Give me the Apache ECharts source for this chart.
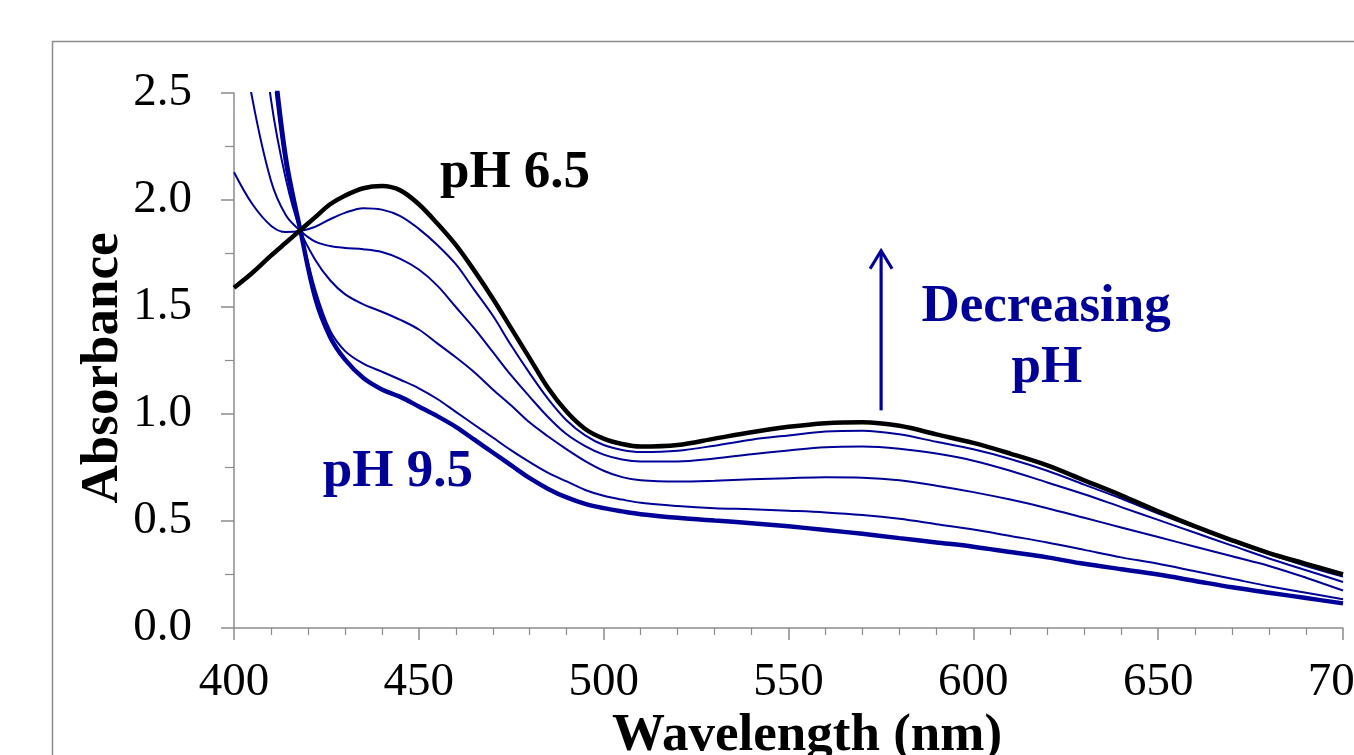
<!DOCTYPE html>
<html>
<head>
<meta charset="utf-8">
<title>Absorbance spectra vs pH</title>
<script src="https://cdn.jsdelivr.net/npm/echarts@6/dist/echarts.min.js"></script>
<style>
  html, body { margin: 0; padding: 0; background: #ffffff; }
  #chart { width: 1354px; height: 755px; }
</style>
</head>
<body>
<div id="chart"></div>
<script>
// Wavelength grid (nm) shared by every spectrum
const wavelengths = [400,405,410,414,418,422,426,430,435,440,445,450,455,460,465,470,475,480,485,490,495,500,505,510,520,530,540,550,560,570,580,590,600,610,620,630,640,650,660,670,680,690,700];

// Absorbance at pH 6.5 (most acidic spectrum)
const absPH65 = [1.59,1.66,1.74,1.80,1.86,1.92,1.98,2.02,2.055,2.065,2.045,1.98,1.89,1.79,1.67,1.54,1.40,1.26,1.12,1.01,0.93,0.885,0.86,0.848,0.855,0.885,0.915,0.94,0.957,0.962,0.945,0.905,0.865,0.815,0.76,0.69,0.62,0.545,0.475,0.41,0.35,0.30,0.25];

// Intermediate spectra, from lower to higher pH
const absStep1 = [2.13,1.98,1.88,1.85,1.855,1.875,1.91,1.94,1.962,1.955,1.925,1.865,1.79,1.70,1.58,1.46,1.32,1.19,1.07,0.97,0.90,0.855,0.832,0.822,0.828,0.852,0.88,0.90,0.918,0.922,0.905,0.87,0.835,0.79,0.735,0.67,0.605,0.535,0.47,0.405,0.345,0.29,0.24];
const absStep2 = [3.0,2.47,2.09,1.93,1.855,1.805,1.785,1.776,1.77,1.757,1.725,1.675,1.60,1.50,1.40,1.29,1.18,1.08,0.985,0.905,0.85,0.81,0.787,0.778,0.778,0.792,0.812,0.83,0.845,0.848,0.838,0.815,0.782,0.735,0.68,0.625,0.565,0.505,0.445,0.385,0.325,0.27,0.215];
const absStep3 = [4.2,3.2,2.47,2.10,1.855,1.72,1.625,1.56,1.512,1.478,1.44,1.395,1.33,1.265,1.195,1.115,1.04,0.96,0.895,0.835,0.78,0.735,0.705,0.69,0.684,0.688,0.695,0.70,0.704,0.702,0.69,0.665,0.635,0.60,0.56,0.515,0.47,0.425,0.38,0.335,0.29,0.235,0.175];
const absStep4 = [4.6,3.5,2.70,2.15,1.855,1.58,1.39,1.295,1.235,1.198,1.16,1.12,1.07,1.01,0.95,0.89,0.83,0.775,0.725,0.685,0.645,0.618,0.60,0.585,0.57,0.56,0.555,0.548,0.54,0.528,0.51,0.485,0.46,0.43,0.40,0.365,0.33,0.30,0.265,0.23,0.195,0.165,0.134];

// Absorbance at pH 9.5 (most basic spectrum)
const absPH95 = [4.7,3.6,2.78,2.20,1.855,1.54,1.36,1.255,1.168,1.115,1.08,1.035,0.99,0.94,0.88,0.82,0.76,0.70,0.65,0.61,0.58,0.56,0.545,0.532,0.515,0.502,0.49,0.475,0.458,0.44,0.42,0.40,0.38,0.355,0.33,0.30,0.275,0.25,0.22,0.19,0.165,0.14,0.115];

// Axis tick values
const xTicks = [400,450,500,550,600,650,700];
const yTicks = [0.0,0.5,1.0,1.5,2.0,2.5];

const NAVY = '#000099';
const SERIF = '"Liberation Serif", "Times New Roman", serif';

function pairs(values) {
  return wavelengths.map((w, i) => [w, values[i]]);
}

function spectrum(name, values, color, width) {
  return {
    name: name,
    type: 'line',
    data: pairs(values),
    smooth: 0.35,
    showSymbol: false,
    clip: true,
    lineStyle: { color: color, width: width },
    emphasis: { disabled: true }
  };
}

const chart = echarts.init(document.getElementById('chart'), null, { renderer: 'canvas' });

const axisGray = '#8c8c8c';

const option = {
  animation: false,
  backgroundColor: '#ffffff',
  grid: { left: 234, right: 11, top: 93, bottom: 127, containLabel: false, outerBoundsMode: 'none' },
  xAxis: {
    type: 'value',
    min: xTicks[0],
    max: xTicks[xTicks.length - 1],
    interval: xTicks[1] - xTicks[0],
    axisLine: { show: true, lineStyle: { color: axisGray, width: 1.5 } },
    axisTick: { show: true, length: 12, lineStyle: { color: axisGray, width: 1.5 } },
    minorTick: { show: true, splitNumber: 5, length: 7, lineStyle: { color: axisGray, width: 1.2 } },
    splitLine: { show: false },
    axisLabel: { fontFamily: SERIF, fontSize: 47, color: '#000000', margin: 31, hideOverlap: false }
  },
  yAxis: {
    type: 'value',
    min: yTicks[0],
    max: yTicks[yTicks.length - 1],
    interval: yTicks[1] - yTicks[0],
    axisLine: { show: true, lineStyle: { color: axisGray, width: 1.5 } },
    axisTick: { show: true, length: 13, lineStyle: { color: axisGray, width: 1.5 } },
    minorTick: { show: true, splitNumber: 2, length: 9, lineStyle: { color: axisGray, width: 1.2 } },
    splitLine: { show: false },
    axisLabel: {
      fontFamily: SERIF, fontSize: 47, color: '#000000', margin: 42,
      formatter: v => v.toFixed(1)
    }
  },
  series: [
    spectrum('pH 9.5', absPH95, NAVY, 4.5),
    spectrum('step 4', absStep4, NAVY, 2),
    spectrum('step 3', absStep3, NAVY, 2),
    spectrum('step 2', absStep2, NAVY, 2),
    spectrum('step 1', absStep1, NAVY, 2),
    spectrum('pH 6.5', absPH65, '#000000', 4.5)
  ]
};

chart.setOption(option);

// Annotations anchored in data coordinates (wavelength, absorbance)
const notes = [
  { text: 'pH 6.5', at: [455.7, 2.125], color: '#000000', align: 'left' },
  { text: 'pH 9.5', at: [424.0, 0.728], color: NAVY, align: 'left' },
  { text: 'Decreasing', at: [619.7, 1.499], color: NAVY, align: 'center' },
  { text: 'pH', at: [619.9, 1.215], color: NAVY, align: 'center' }
];
const arrowFrom = [575.05, 1.017];
const arrowTo = [575.05, 1.763];

const px = p => chart.convertToPixel({ gridIndex: 0 }, p);

const graphics = [];

// Outer chart-area frame
graphics.push({
  type: 'rect',
  silent: true,
  shape: { x: 52.5, y: 41.5, width: 1400, height: 800 },
  style: { fill: 'none', stroke: '#8a8a8a', lineWidth: 1.5 },
  z: -1
});

notes.forEach(n => {
  const p = px(n.at);
  graphics.push({
    type: 'text',
    silent: true,
    x: p[0], y: p[1],
    style: {
      text: n.text,
      font: 'bold 53px ' + SERIF,
      fill: n.color,
      align: n.align,
      verticalAlign: 'middle'
    },
    z: 10
  });
});

// Arrow showing the direction of decreasing pH
const a0 = px(arrowFrom);
const a1 = px(arrowTo);
graphics.push({
  type: 'line', silent: true,
  shape: { x1: a0[0], y1: a0[1], x2: a1[0], y2: a1[1] + 1 },
  style: { stroke: NAVY, lineWidth: 3.2 },
  z: 10
});
graphics.push({
  type: 'polyline', silent: true,
  shape: { points: [[a1[0] - 11, a1[1] + 18], [a1[0], a1[1]], [a1[0] + 11, a1[1] + 18]] },
  style: { stroke: NAVY, lineWidth: 3.2, fill: 'none', lineJoin: 'miter' },
  z: 10
});

// Axis titles
graphics.push({
  type: 'text', silent: true,
  x: 807, y: 710,
  style: {
    text: 'Wavelength (nm)',
    font: 'bold 53px ' + SERIF,
    fill: '#000000', align: 'center', verticalAlign: 'top'
  },
  z: 10
});
graphics.push({
  type: 'text', silent: true,
  x: 103, y: 368,
  rotation: Math.PI / 2,
  style: {
    text: 'Absorbance',
    font: 'bold 53px ' + SERIF,
    fill: '#000000', align: 'center', verticalAlign: 'middle'
  },
  z: 10
});

chart.setOption({ graphic: graphics });
</script>
</body>
</html>
